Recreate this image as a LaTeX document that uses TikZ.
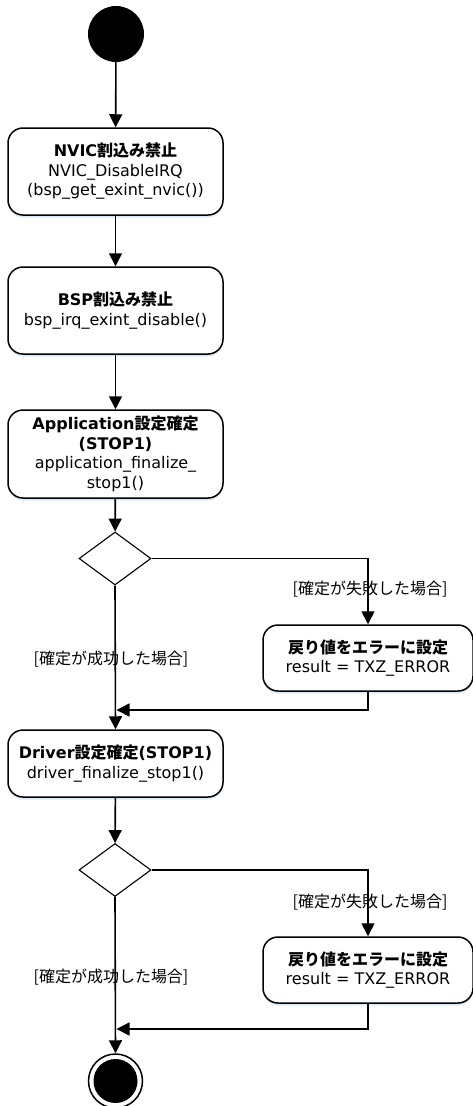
\documentclass[tikz,border=0pt]{standalone}
\usepackage{fontspec}
\setmainfont{DejaVu Sans}
\newfontfamily\jp{Noto Sans CJK JP}
\newcommand\jtxt[1]{{\jp #1}}
\usetikzlibrary{arrows.meta, shapes.geometric, shadows, positioning}

\tikzset{
	action/.style={draw, line width=1.5pt, rounded corners=15pt, fill=white, align=center,
		inner sep=0pt, minimum width=215pt,
		drop shadow={shadow xshift=0pt, shadow yshift=-2.5pt, fill=cyan!50!blue, opacity=0.15}},
	errbox/.style={action, minimum width=210pt, minimum height=66pt},
	decision/.style={diamond, draw, line width=1.1pt, fill=white, inner sep=0pt,
		minimum width=72pt, minimum height=53pt},
	startnode/.style={circle, fill=black, minimum size=56pt, inner sep=0pt},
	endnode/.style={circle, draw, line width=1.5pt, fill=white, minimum size=54pt, inner sep=0pt},
	guard/.style={inner sep=0pt},
	flow/.style={line width=1.6pt, -{Triangle[length=13pt,width=13pt]}}
}

\begin{document}
\begin{tikzpicture}[x=1pt, y=-1pt, font=\fontsize{16}{19.5}\selectfont]
	\useasboundingbox (0,0) rectangle (473,1106);
	% nodes
	\node[startnode] (start) at (116,34) {};
	\node[action, minimum height=87pt] (nvic) at (115.5,171.5)
		{\textbf{NVIC\jtxt{割込み禁止}}\\NVIC\_DisableIRQ\\(bsp\_get\_exint\_nvic())};
	\node[action, minimum height=87pt] (bsp) at (115.5,310.5)
		{\textbf{BSP\jtxt{割込み禁止}}\\bsp\_irq\_exint\_disable()};
	\node[action, minimum height=88pt] (app) at (115.5,454)
		{\textbf{Application\jtxt{設定確定}}\\\textbf{(STOP1)}\\application\_finalize\_\\stop1()};
	\node[decision] (dec1) at (115,558.5) {};
	\node[errbox] (err1) at (368,658)
		{\textbf{\jtxt{戻り値をエラーに設定}}\\result = TXZ\_ERROR};
	\node[action, minimum height=67pt] (drv) at (115.5,763.5)
		{\textbf{Driver\jtxt{設定確定}(STOP1)}\\driver\_finalize\_stop1()};
	\node[decision] (dec2) at (115,870) {};
	\node[errbox] (err2) at (368,970)
		{\textbf{\jtxt{戻り値をエラーに設定}}\\result = TXZ\_ERROR};
	\node[endnode] (stop) at (115.5,1081) {};
	\fill (stop.center) circle (22pt);
	\coordinate (m1) at (116.5,710);
	\coordinate (m2) at (116.5,1029);
	% guards
	\node[guard] (fail1) at (370,589) {\jtxt{[確定が失敗した場合]}};
	\node[guard] (ok1) at (111,659) {\jtxt{[確定が成功した場合]}};
	\node[guard] (fail2) at (370,902) {\jtxt{[確定が失敗した場合]}};
	\node[guard] (ok2) at (111,977) {\jtxt{[確定が成功した場合]}};
	% flows
	\draw[flow] (start) -- (nvic);
	\draw[flow] (nvic) -- (bsp);
	\draw[flow] (bsp) -- (app);
	\draw[flow] (app) -- (dec1);
	\draw[flow] (dec1.east) -| (err1.north);
	\draw[flow] (dec1.south) -- (drv.north);
	\draw[flow] (err1.south) |- (m1);
	\draw[flow] (drv) -- (dec2);
	\draw[flow] (dec2.east) -| (err2.north);
	\draw[flow] (dec2.south) -- (stop.north);
	\draw[flow] (err2.south) |- (m2);
\end{tikzpicture}
\end{document}
